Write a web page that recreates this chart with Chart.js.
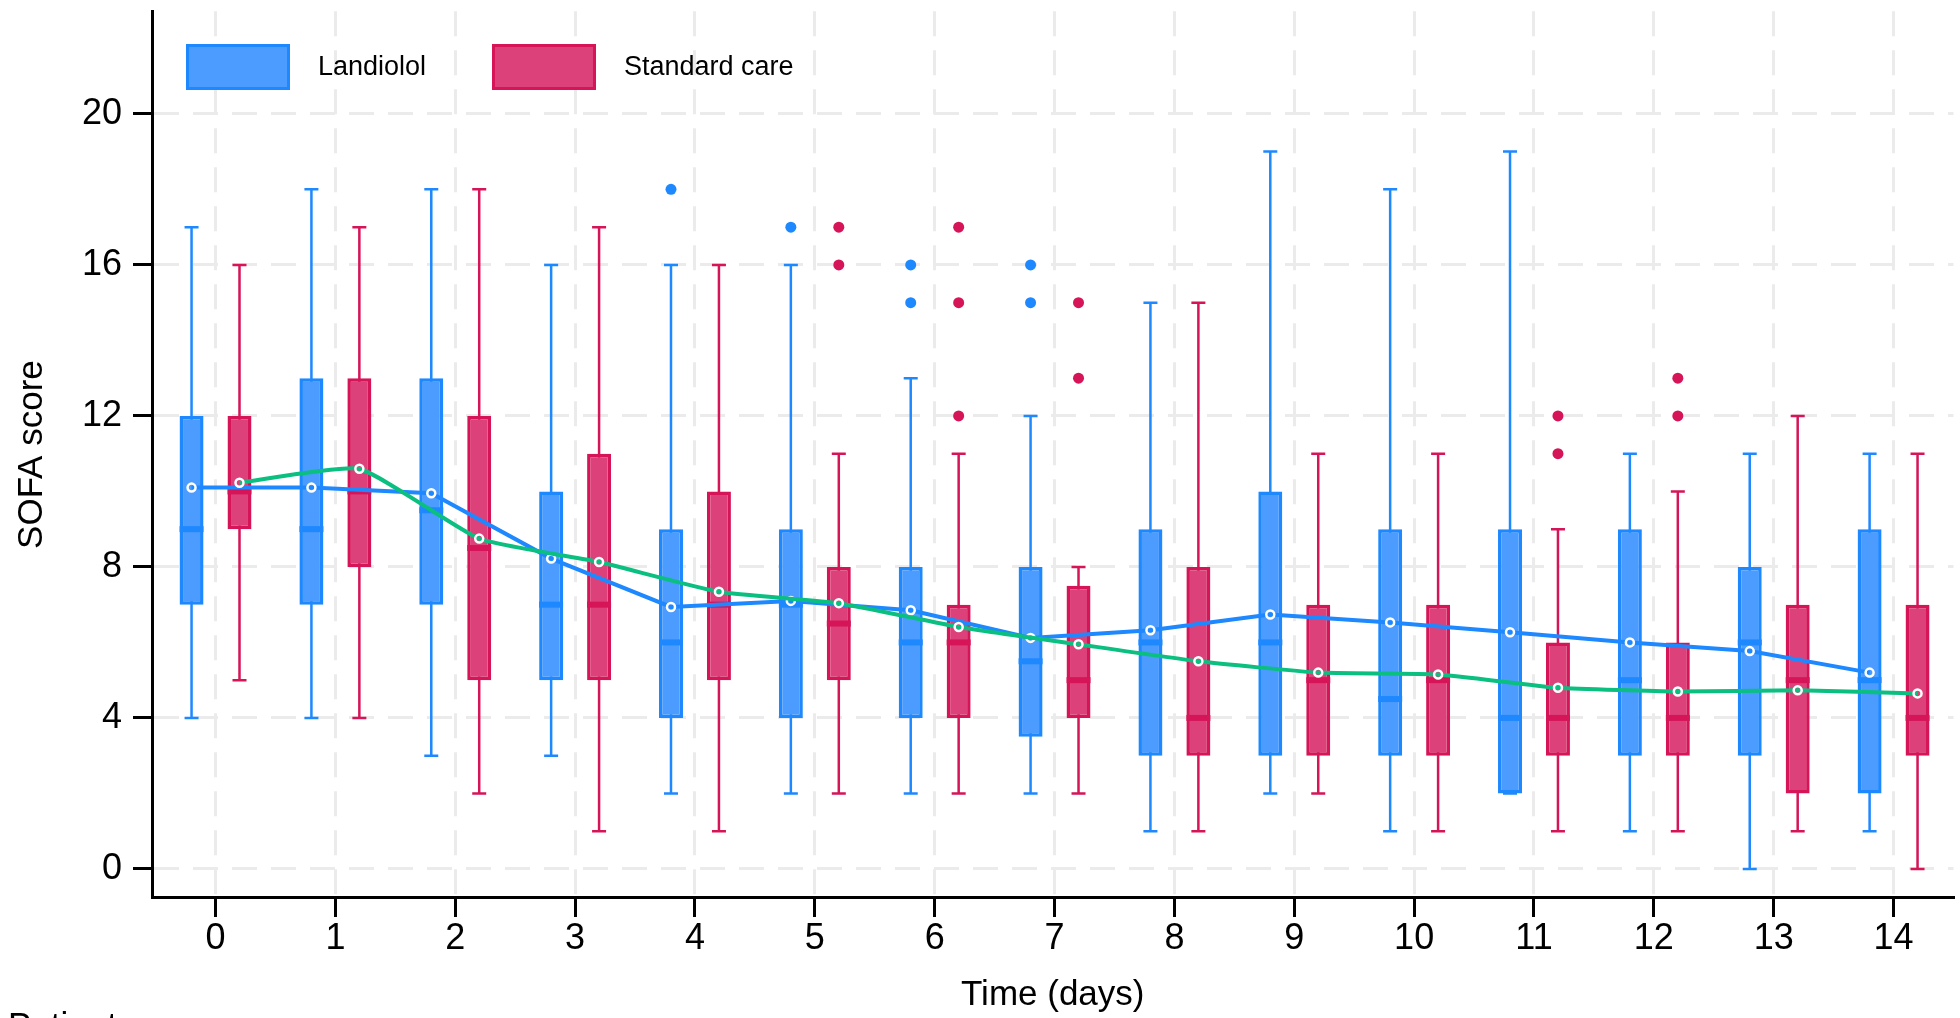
<!DOCTYPE html>
<html>
<head>
    <meta charset="UTF-8">
    <title>SOFA score over time</title>
    <script src="https://cdn.jsdelivr.net/npm/chart.js"></script>
    <style>
        html, body {
            margin: 0;
            padding: 0;
            background: #ffffff;
            overflow: hidden;
        }
        canvas {
            display: block;
        }
    </style>
</head>
<body>
    <canvas id="sofaChart" width="1960" height="1018"></canvas>

    <script>
        // Data
        const days = [0, 1, 2, 3, 4, 5, 6, 7, 8, 9, 10, 11, 12, 13, 14];
        const yTicks = [0, 4, 8, 12, 16, 20];
        const seriesNames = ['Landiolol', 'Standard care'];

        const lanMin  = [4, 4, 3, 3, 2, 2, 2, 2, 1, 2, 1, 2, 1, 0, 1];
        const lanQ1   = [7, 7, 7, 5, 4, 4, 4, 3.5, 3, 3, 3, 2, 3, 3, 2];
        const lanMed  = [9, 9, 9.5, 7, 6, 7, 6, 5.5, 6, 6, 4.5, 4, 5, 6, 5];
        const lanQ3   = [12, 13, 13, 10, 9, 9, 8, 8, 9, 10, 9, 9, 9, 8, 9];
        const lanMax  = [17, 18, 18, 16, 16, 16, 13, 12, 15, 19, 18, 19, 11, 11, 11];
        const lanMean = [10.1, 10.1, 9.95, 8.22, 6.94, 7.1, 6.85, 6.12, 6.32, 6.74, 6.53, 6.27, 6.0, 5.77, 5.2];
        const lanOut  = [[], [], [], [], [18], [17], [16, 15], [16, 15], [], [], [], [], [], [], []];

        const stdMin  = [5, 4, 2, 1, 1, 2, 2, 2, 1, 2, 1, 1, 1, 1, 0];
        const stdQ1   = [9, 8, 5, 5, 5, 5, 4, 4, 3, 3, 3, 3, 3, 2, 3];
        const stdMed  = [10, 10, 8.5, 7, 7, 6.5, 6, 5, 4, 5, 5, 4, 4, 5, 4];
        const stdQ3   = [12, 13, 12, 11, 10, 8, 7, 7.5, 8, 7, 7, 6, 6, 7, 7];
        const stdMax  = [16, 17, 18, 17, 16, 11, 11, 8, 15, 11, 11, 9, 10, 12, 11];
        const stdMean = [10.23, 10.6, 8.75, 8.13, 7.34, 7.04, 6.41, 5.95, 5.5, 5.2, 5.15, 4.8, 4.7, 4.73, 4.65];
        const stdOut  = [[], [], [], [], [], [17, 16], [17, 15, 12], [15, 13], [], [], [], [12, 11], [13, 12], [], []];

        const FONT = '"Liberation Sans", Arial, Helvetica, sans-serif';
        const BLUE_FILL = '#4C9BFF';
        const BLUE_LINE = '#1E88FF';
        const RED_FILL = '#DC4279';
        const RED_LINE = '#D51558';
        const GREEN = '#0ABF80';
        const GRID = '#EBEBEB';
        const SHIFT = 0.2; // side offset of each group, in days

        const flatOut = (out, dx) => out.flatMap((vals, i) => vals.map(v => ({ x: days[i] + dx, y: v })));

        // whiskers, medians, legend and footnote
        const boxParts = {
            id: 'boxParts',
            beforeDatasetsDraw(chart) {
                const ctx = chart.ctx;
                const yScale = chart.scales.y;
                chart.data.datasets.forEach((ds, di) => {
                    if (!ds.whiskers) return;
                    const meta = chart.getDatasetMeta(di);
                    ctx.save();
                    ctx.strokeStyle = ds.borderColor;
                    ctx.lineWidth = 2.5;
                    meta.data.forEach((bar, i) => {
                        const x = bar.getProps(['x'], true).x;
                        const yLo = yScale.getPixelForValue(ds.whiskers.min[i]);
                        const yHi = yScale.getPixelForValue(ds.whiskers.max[i]);
                        ctx.beginPath();
                        ctx.moveTo(x, yLo);
                        ctx.lineTo(x, yHi);
                        ctx.moveTo(x - 7, yLo);
                        ctx.lineTo(x + 7, yLo);
                        ctx.moveTo(x - 7, yHi);
                        ctx.lineTo(x + 7, yHi);
                        ctx.stroke();
                    });
                    ctx.restore();
                });
            },
            afterDatasetDraw(chart, args) {
                const ds = chart.data.datasets[args.index];
                if (!ds.whiskers) return;
                const ctx = chart.ctx;
                const yScale = chart.scales.y;
                ctx.save();
                ctx.strokeStyle = ds.borderColor;
                ctx.lineWidth = 6;
                args.meta.data.forEach((bar, i) => {
                    const p = bar.getProps(['x', 'width'], true);
                    const y = yScale.getPixelForValue(ds.whiskers.med[i]);
                    ctx.beginPath();
                    ctx.moveTo(p.x - p.width / 2, y);
                    ctx.lineTo(p.x + p.width / 2, y);
                    ctx.stroke();
                });
                ctx.restore();
            },
            afterDraw(chart) {
                const ctx = chart.ctx;
                const boxes = chart.data.datasets.filter(ds => ds.whiskers);
                const boxLeft = [186, 492];
                ctx.save();
                boxes.forEach((ds, k) => {
                    ctx.fillStyle = ds.backgroundColor;
                    ctx.fillRect(boxLeft[k], 44, 104, 46);
                    ctx.strokeStyle = ds.borderColor;
                    ctx.lineWidth = 3;
                    ctx.strokeRect(boxLeft[k] + 1.5, 45.5, 101, 43);
                    ctx.fillStyle = '#000';
                    ctx.font = '27px ' + FONT;
                    ctx.textBaseline = 'middle';
                    ctx.textAlign = 'left';
                    ctx.fillText(ds.label, boxLeft[k] + 132, 68);
                });
                // footnote, cut off by the bottom edge as in the original
                ctx.font = '35px ' + FONT;
                ctx.textBaseline = 'top';
                ctx.fillText('Patients', 8, 1010);
                ctx.restore();
            }
        };

        const ctx = document.getElementById('sofaChart').getContext('2d');
        const chart = new Chart(ctx, {
            type: 'bar',
            data: {
                datasets: [{
                    type: 'line',
                    label: seriesNames[1] + ' mean',
                    data: days.map((d, i) => ({ x: d + SHIFT, y: stdMean[i] })),
                    borderColor: GREEN,
                    borderWidth: 4,
                    tension: 0.15,
                    pointRadius: 4,
                    pointBorderWidth: 2.5,
                    pointBorderColor: '#ffffff',
                    pointBackgroundColor: 'rgba(0,0,0,0)',
                    order: 0
                }, {
                    type: 'line',
                    label: seriesNames[0] + ' mean',
                    data: days.map((d, i) => ({ x: d - SHIFT, y: lanMean[i] })),
                    borderColor: BLUE_LINE,
                    borderWidth: 4,
                    tension: 0,
                    pointRadius: 4,
                    pointBorderWidth: 2.5,
                    pointBorderColor: '#ffffff',
                    pointBackgroundColor: 'rgba(0,0,0,0)',
                    order: 1
                }, {
                    type: 'line',
                    label: seriesNames[0] + ' outliers',
                    data: flatOut(lanOut, -SHIFT),
                    showLine: false,
                    pointRadius: 5.5,
                    pointBorderWidth: 0,
                    pointBackgroundColor: BLUE_LINE,
                    order: 2
                }, {
                    type: 'line',
                    label: seriesNames[1] + ' outliers',
                    data: flatOut(stdOut, SHIFT),
                    showLine: false,
                    pointRadius: 5.5,
                    pointBorderWidth: 0,
                    pointBackgroundColor: RED_LINE,
                    order: 2
                }, {
                    label: seriesNames[0],
                    data: days.map((d, i) => ({ x: d, y: [lanQ1[i], lanQ3[i]] })),
                    backgroundColor: BLUE_FILL,
                    borderColor: BLUE_LINE,
                    borderWidth: 3.5,
                    borderSkipped: false,
                    categoryPercentage: 0.8,
                    barPercentage: 0.5,
                    whiskers: { min: lanMin, max: lanMax, med: lanMed },
                    order: 3
                }, {
                    label: seriesNames[1],
                    data: days.map((d, i) => ({ x: d, y: [stdQ1[i], stdQ3[i]] })),
                    backgroundColor: RED_FILL,
                    borderColor: RED_LINE,
                    borderWidth: 3.5,
                    borderSkipped: false,
                    categoryPercentage: 0.8,
                    barPercentage: 0.5,
                    whiskers: { min: stdMin, max: stdMax, med: stdMed },
                    order: 3
                }]
            },
            options: {
                responsive: false,
                animation: false,
                layout: {
                    padding: { top: 10, right: 4, bottom: 0, left: 0 }
                },
                plugins: {
                    legend: { display: false },
                    tooltip: { enabled: false }
                },
                scales: {
                    x: {
                        type: 'linear',
                        min: -0.53,
                        max: 14.5,
                        offset: false,
                        afterBuildTicks: scale => { scale.ticks = days.map(v => ({ value: v })); },
                        afterFit: scale => { scale.height = 120; },
                        grid: {
                            offset: false,
                            color: GRID,
                            lineWidth: 3,
                            tickLength: 19,
                            tickColor: '#000',
                            tickWidth: 3
                        },
                        border: { display: true, color: '#000', width: 3, dash: [25, 14] },
                        ticks: {
                            color: '#000',
                            font: { size: 36, family: FONT },
                            padding: 0,
                            maxRotation: 0,
                            autoSkip: false
                        },
                        title: {
                            display: true,
                            text: 'Time (days)',
                            color: '#000',
                            font: { size: 35, family: FONT },
                            padding: { top: 0, bottom: 2 }
                        }
                    },
                    y: {
                        type: 'linear',
                        min: -0.77,
                        max: 22.72,
                        afterBuildTicks: scale => { scale.ticks = yTicks.map(v => ({ value: v })); },
                        afterFit: scale => { scale.width = 152; },
                        grid: {
                            color: GRID,
                            lineWidth: 3,
                            tickLength: 19,
                            tickColor: '#000',
                            tickWidth: 3
                        },
                        border: { display: true, color: '#000', width: 3, dash: [25, 14] },
                        ticks: {
                            color: '#000',
                            font: { size: 36, family: FONT, lineHeight: 0.01 },
                            padding: 11
                        },
                        title: {
                            display: true,
                            text: 'SOFA score',
                            color: '#000',
                            font: { size: 35, family: FONT },
                            padding: { top: 11, bottom: 0 }
                        }
                    }
                }
            },
            plugins: [boxParts]
        });
    </script>
</body>
</html>
